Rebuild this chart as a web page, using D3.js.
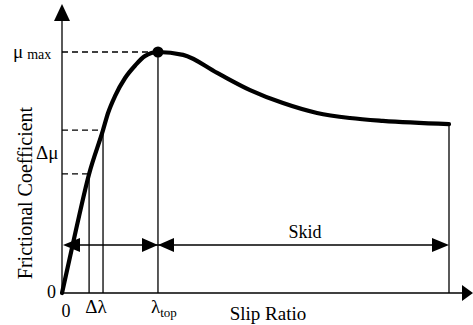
<!doctype html>
<html>
<head>
<meta charset="utf-8">
<style>
  body { margin: 0; background: #fff; }
  svg { display: block; }
  svg text { font-family: "Liberation Serif", "Times New Roman", Times, Tinos, "DejaVu Serif", "Noto Serif", serif; }
</style>
</head>
<body>
<svg id="chart"></svg>
<script src="https://cdn.jsdelivr.net/npm/d3@7"></script>
<script>
// slip ratio (normalised) vs frictional coefficient (mu / mu_max)
let slip     = [0, 0.036, 0.070, 0.106, 0.119, 0.137, 0.163, 0.189, 0.214, 0.248, 0.313, 0.401, 0.486, 0.571, 0.659, 0.744, 0.829, 1.0];
let friction = [0, 0.261, 0.494, 0.676, 0.747, 0.817, 0.892, 0.944, 0.983, 1.0, 0.988, 0.913, 0.842, 0.788, 0.747, 0.726, 0.714, 0.701];

// marked positions
let dLambda   = [0.070, 0.106];   // the two Δλ lines
let dMu       = [0.494, 0.676];   // the two Δμ levels
let lambdaTop = 0.248;
let muMax     = 1.0;
let slipEnd   = 1.0;

let width = 473, height = 325;

let svg = d3.select("#chart")
    .attr("width", width)
    .attr("height", height);

let x = d3.scaleLinear().domain([0, 1]).range([62, 449]);
let y = d3.scaleLinear().domain([0, 1]).range([293, 52]);

let data = slip.map((s, i) => ({ s: s, f: friction[i] }));

// filled triangle with tip at (tx,ty), pointing in dir
function arrowHead(tx, ty, dir, len, half) {
  let pts;
  if (dir == "left")  pts = [[tx, ty], [tx + len, ty - half], [tx + len, ty + half]];
  if (dir == "right") pts = [[tx, ty], [tx - len, ty - half], [tx - len, ty + half]];
  if (dir == "up")    pts = [[tx, ty], [tx - half, ty + len], [tx + half, ty + len]];
  svg.append("path")
    .attr("d", "M" + pts.map(p => p.join(",")).join("L") + "Z")
    .attr("fill", "#000");
}

function line(x1, y1, x2, y2, dash) {
  svg.append("line")
    .attr("x1", x1).attr("y1", y1).attr("x2", x2).attr("y2", y2)
    .attr("stroke", "#000")
    .attr("stroke-width", 1.3)
    .attr("stroke-dasharray", dash ? "6,4" : null);
}

function label(px, py, size, str) {
  return svg.append("text")
    .attr("x", px).attr("y", py)
    .style("font-size", size + "px")
    .attr("fill", "#000")
    .text(str);
}

function fAt(s) {
  return friction[slip.indexOf(s)];
}

// axes
line(x(0), y(0), x(0), 12);
arrowHead(x(0), 4, "up", 17, 8);
line(x(0), y(0), 466, y(0));
arrowHead(473, y(0), "right", 11, 8);

// dashed guide lines
line(x(0), y(muMax), x(lambdaTop), y(muMax), true);
dMu.forEach((m, i) => line(x(0), y(m), x(dLambda[i]), y(m), true));

// vertical guide lines
dLambda.forEach((l, i) => line(x(l), y(dMu[i]), x(l), y(0)));
line(x(lambdaTop), y(muMax), x(lambdaTop), y(0));
line(x(slipEnd), y(fAt(slipEnd)), x(slipEnd), y(0));

// span arrows
let ay = 245;
line(x(0) + 4, ay, x(slipEnd) - 4, ay);
arrowHead(x(0) + 1, ay, "left", 17, 7);
arrowHead(x(lambdaTop), ay, "right", 16, 7);
arrowHead(x(lambdaTop), ay, "left", 16, 7);
arrowHead(x(slipEnd), ay, "right", 17, 7);

// the curve
svg.append("path")
  .datum(data)
  .attr("fill", "none")
  .attr("stroke", "#000")
  .attr("stroke-width", 4.2)
  .attr("stroke-linecap", "round")
  .attr("d", d3.line().x(d => x(d.s)).y(d => y(d.f)).curve(d3.curveMonotoneX));

svg.append("circle")
  .attr("cx", x(lambdaTop)).attr("cy", y(muMax))
  .attr("r", 5.5).attr("fill", "#000");

// labels
let mm = label(13, 58, 19, "μ");
mm.append("tspan").attr("dx", 4).attr("dy", 1).style("font-size", "14px").text("max");

label(36, 159, 19, "Δμ");

label(56, 298, 18, "0").attr("text-anchor", "end");
label(66, 317, 18, "0").attr("text-anchor", "middle");
label((x(dLambda[0]) + x(dLambda[1])) / 2, 313, 19, "Δλ").attr("text-anchor", "middle");

let lt = label(151, 313, 19, "λ");
lt.append("tspan").attr("dy", 4).style("font-size", "13px").text("top");

label(268, 320, 19, "Slip Ratio").attr("text-anchor", "middle");
label(305, 238, 18, "Skid").attr("text-anchor", "middle");

label(0, 0, 20, "Frictional Coefficient")
  .attr("transform", "translate(32,193) rotate(-90)")
  .attr("text-anchor", "middle");
</script>
</body>
</html>
